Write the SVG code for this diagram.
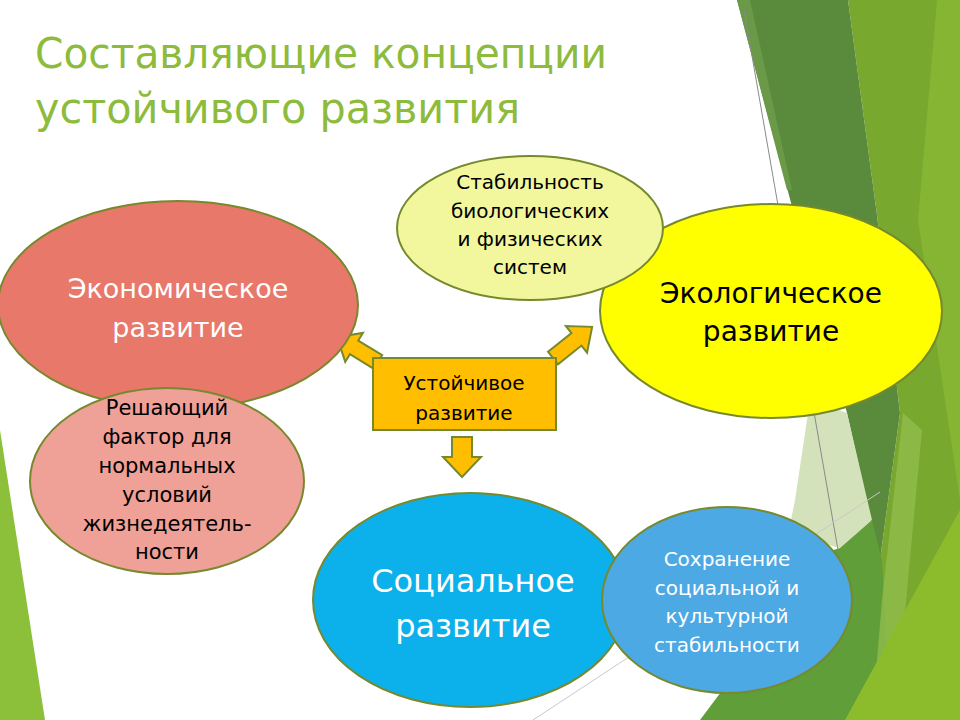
<svg xmlns="http://www.w3.org/2000/svg" width="960" height="720" viewBox="0 0 960 720">
<style>
.t{font-family:"DejaVu Sans","Liberation Sans",sans-serif;text-anchor:middle}
.node{stroke:#76892c;stroke-width:2}
.arr{fill:#ffbf00;stroke:#76892c;stroke-width:2;stroke-linejoin:miter}
</style>
<rect width="960" height="720" fill="#ffffff"/>
<g id="background">
<polygon points="848,0 960,0 960,720 840,720 880,560 900,413 877,215" fill="#78a82e"/>
<polygon points="737,0 848,0 877,215 900,413 880,560 847,413" fill="#5a8a3c"/>
<polygon points="737,0 750,0 792,190 787,190" fill="#6a9a48"/>
<polygon points="937,0 960,0 960,500 918,220" fill="#86b534"/>
<polygon points="810,400 847,413 872,520 840,548 788,535 795,500" fill="#d3e2ba"/>
<polygon points="700,720 760,640 800,560 840,548 872,520 882,560 890,720" fill="#5f9e38"/>
<polygon points="903,413 922,430 895,720 872,720 882,600" fill="#93bd4e" opacity="0.75"/>
<polygon points="960,510 960,720 845,720" fill="#8cbb2c"/>
<line x1="744" y1="10" x2="838" y2="550" stroke="#8a8a8a" stroke-width="1"/>
<line x1="533" y1="720" x2="880" y2="492" stroke="#c8c8c8" stroke-width="1"/>
<polygon points="0,430 45,720 0,720" fill="#8cbf3a"/>
</g>
<g id="title" class="t" style="text-anchor:start" fill="#8dbb3b" font-size="42">
<text x="35" y="68" textLength="572" lengthAdjust="spacingAndGlyphs">Составляющие концепции</text>
<text x="35" y="123" textLength="485" lengthAdjust="spacingAndGlyphs">устойчивого развития</text>
</g>
<g id="connectors">
<polygon class="arr" transform="translate(378,362) rotate(211.4)" points="0,-8 28,-8 28,-17 48,0 28,17 28,8 0,8"/>
<polygon class="arr" transform="translate(553,358) rotate(-38.5)" points="0,-8 30,-8 30,-17 50,0 30,17 30,8 0,8"/>
<polygon class="arr" transform="translate(462,437) rotate(90)" points="0,-10 20,-10 20,-19 40,0 20,19 20,10 0,10"/>
</g>
<g id="economic">
<ellipse class="node" cx="178" cy="305" rx="180" ry="104" fill="#e8786a"/>
<text class="t" fill="#ffffff" font-size="27" x="178" y="298">Экономическое</text>
<text class="t" fill="#ffffff" font-size="27" x="178" y="337">развитие</text>
</g>
<g id="factor">
<ellipse class="node" cx="167" cy="481" rx="137" ry="93" fill="#f0a197"/>
<text class="t" fill="#000000" font-size="21" x="167" y="415">Решающий</text>
<text class="t" fill="#000000" font-size="21" x="167" y="444">фактор для</text>
<text class="t" fill="#000000" font-size="21" x="167" y="473">нормальных</text>
<text class="t" fill="#000000" font-size="21" x="167" y="502">условий</text>
<text class="t" fill="#000000" font-size="21" x="167" y="531">жизнедеятель-</text>
<text class="t" fill="#000000" font-size="21" x="167" y="559">ности</text>
</g>
<g id="ecological">
<ellipse class="node" cx="771" cy="311" rx="171" ry="107" fill="#ffff00"/>
<text class="t" fill="#000000" font-size="28" x="771" y="303">Экологическое</text>
<text class="t" fill="#000000" font-size="28" x="771" y="341">развитие</text>
</g>
<g id="stability">
<ellipse class="node" cx="530" cy="228" rx="133" ry="72" fill="#f2f79e"/>
<text class="t" fill="#000000" font-size="20" x="530" y="189">Стабильность</text>
<text class="t" fill="#000000" font-size="20" x="530" y="218">биологических</text>
<text class="t" fill="#000000" font-size="20" x="530" y="246">и физических</text>
<text class="t" fill="#000000" font-size="20" x="530" y="274">систем</text>
</g>
<g id="center">
<rect class="node" x="373" y="358" width="183" height="72" fill="#ffbf00"/>
<text class="t" fill="#000000" font-size="20" x="464" y="390">Устойчивое</text>
<text class="t" fill="#000000" font-size="20" x="464" y="420">развитие</text>
</g>
<g id="social">
<ellipse class="node" cx="470" cy="600" rx="157" ry="107" fill="#0cb0ea"/>
<text class="t" fill="#ffffff" font-size="32" x="473" y="592">Социальное</text>
<text class="t" fill="#ffffff" font-size="32" x="473" y="637">развитие</text>
</g>
<g id="cultural">
<ellipse class="node" cx="727" cy="600" rx="125" ry="93" fill="#4da9e4"/>
<text class="t" fill="#ffffff" font-size="20" x="727" y="566">Сохранение</text>
<text class="t" fill="#ffffff" font-size="20" x="727" y="595">социальной и</text>
<text class="t" fill="#ffffff" font-size="20" x="727" y="623">культурной</text>
<text class="t" fill="#ffffff" font-size="20" x="727" y="652">стабильности</text>
</g>
</svg>
